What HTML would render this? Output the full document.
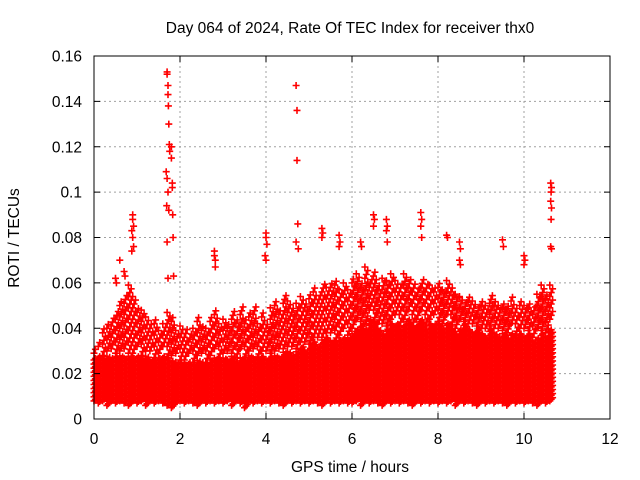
<!DOCTYPE html>
<html><head><meta charset="utf-8"><style>
body{margin:0;background:#fff}
svg{display:block;font-family:"Liberation Sans",sans-serif}
</style></head><body>
<svg id="chart" width="640" height="480" viewBox="0 0 640 480">
<rect width="640" height="480" fill="#fff"/>
<text x="350" y="33" text-anchor="middle" font-size="15.5">Day 064 of 2024, Rate Of TEC Index for receiver thx0</text>
<text x="350" y="472" text-anchor="middle" font-size="15.5">GPS time / hours</text>
<text transform="translate(19,238) rotate(-90)" text-anchor="middle" font-size="15.5">ROTI / TECUs</text>
<g id="grid"></g><g id="marks"></g><g id="axes"></g>
</svg>
<script>
const xTicks=[0,2,4,6,8,10,12];
const yTicks=[0,0.02,0.04,0.06,0.08,0.1,0.12,0.14,0.16];
const yTickLabels=["0","0.02","0.04","0.06","0.08","0.1","0.12","0.14","0.16"];
const binStart=0, binWidth=0.1;
const bandLo=[8,7,8,6,8,7,8,7,6,8, 7,8,6,8,7,8,7,6,5,7, 8,7,8,7,6,8,7,8,7,8, 7,8,6,8,7,5,8,7,8,7, 8,7,8,7,6,8,7,8,7,8, 7,8,7,6,8,7,8,7,8,7, 7,8,6,8,7,8,7,6,8,7, 8,7,8,7,6,8,7,8,7,8, 7,8,7,8,6,8,7,8,7,6, 8,7,8,7,8,7,6,8,7,8, 7,8,7,6,8,7,8];
const bandHi=[27,28,27,28,27,28,28,27,28,27, 28,27,28,26,26,27,28,26,26,25, 25,24,25,24,26,25,24,26,27,26, 27,26,28,25,27,26,28,27,26,28, 26,28,28,27,30,30,28,30,32,30, 32,34,32,35,36,34,33,35,36,36, 38,40,42,40,44,42,40,38,40,42, 42,40,42,44,40,42,44,40,42,42, 42,40,42,40,38,40,42,40,38,40, 38,36,40,38,36,38,36,38,36,38, 36,38,34,36,38,36,40];
const bandTop=[32,34,40,42,45,48,52,55,60,55, 50,48,45,42,45,40,42,48,45,40, 42,40,38,40,45,42,40,45,48,42, 45,42,48,45,50,45,48,50,42,48, 42,50,52,48,55,52,50,52,55,52, 55,58,55,60,58,60,62,58,60,58, 62,65,60,68,62,65,60,62,62,65, 62,60,65,62,60,58,62,60,60,58, 60,58,62,58,55,55,52,55,52,50, 52,50,55,52,50,52,50,55,50,52, 50,52,50,55,60,55,60];
const spikeT=[1.7,1.7,1.72,1.72,1.73,1.74,1.75,1.76,1.68,1.7,1.72,1.69,1.74,1.7,1.72,
1.8,1.8,1.82,1.82,1.83,1.84,1.85,
4.7,4.72,4.72,4.74,4.7,4.75,
0.9,0.9,0.92,0.88,0.9,0.92,0.88,0.7,0.72,0.5,0.52,0.6,
2.8,2.8,2.82,2.82,4.0,4.0,4.02,3.98,4.0,
5.3,5.32,5.3,5.7,5.72,5.7,6.2,6.22,6.5,6.52,6.5,
6.8,6.82,6.8,6.82,7.6,7.62,7.6,7.62,8.2,8.22,8.5,8.52,8.5,8.52,9.5,9.52,10.0,10.02,10.0,
10.62,10.64,10.63,10.62,10.64,10.63,10.62,10.64];
const spikeV=[0.153,0.152,0.147,0.143,0.138,0.130,0.121,0.118,0.109,0.106,0.100,0.094,0.092,0.078,0.062,
0.120,0.115,0.104,0.102,0.090,0.080,0.063,
0.147,0.136,0.114,0.086,0.078,0.075,
0.090,0.088,0.085,0.083,0.080,0.076,0.074,0.065,0.063,0.062,0.060,0.070,
0.074,0.072,0.070,0.067,0.082,0.080,0.077,0.072,0.070,
0.084,0.082,0.080,0.081,0.078,0.076,0.078,0.076,0.090,0.088,0.085,
0.088,0.085,0.083,0.078,0.091,0.088,0.085,0.080,0.081,0.080,0.078,0.075,0.070,0.068,0.079,0.076,0.072,0.070,0.068,
0.104,0.102,0.100,0.096,0.093,0.088,0.076,0.075];

const L=94,R=610,T=56,B=419;
const xS=v=>L+(v-0)/(12-0)*(R-L);
const yS=v=>B-(v-0)/(0.16-0)*(B-T);
const NS="http://www.w3.org/2000/svg";
function mk(tag,attrs,parent){const e=document.createElementNS(NS,tag);for(const k in attrs)e.setAttribute(k,attrs[k]);parent.appendChild(e);return e;}
const grid=document.getElementById('grid'),marks=document.getElementById('marks'),axes=document.getElementById('axes');
xTicks.forEach((t,i)=>{
  if(i>0&&i<xTicks.length-1){const g=mk('line',{x1:xS(t),x2:xS(t),y1:T,y2:B,stroke:'#a0a0a0','stroke-dasharray':'2,3'},grid);
  
  }
  const tk=mk('path',{d:`M${xS(t)},${B}v-6M${xS(t)},${T}v6`,stroke:'#000'},axes);
  
  
  const lb=mk('text',{x:xS(t),y:B+25,'text-anchor':'middle','font-size':15.5},axes);lb.textContent=t;
  
  
});
yTicks.forEach((t,i)=>{
  if(i>0&&i<yTicks.length-1){const g=mk('line',{x1:L,x2:R,y1:yS(t),y2:yS(t),stroke:'#a0a0a0','stroke-dasharray':'2,3'},grid);
  
  }
  const tk=mk('path',{d:`M${L},${yS(t)}h6M${R},${yS(t)}h-6`,stroke:'#000'},axes);
  
  
  const lb=mk('text',{x:L-12,y:yS(t)+5.5,'text-anchor':'end','font-size':15.5},axes);lb.textContent=yTickLabels[i];
  
  
});
function plus(x,y){return `M${(x-3.5).toFixed(1)},${y.toFixed(1)}h7M${x.toFixed(1)},${(y-3.5).toFixed(1)}v7`;}
bandHi.forEach((hi,i)=>{
  const t=binStart+i*binWidth;let d='';
  const lo=bandLo[i]/1000,h=hi/1000,top=bandTop[i]/1000;
  const st=[0.002,0.004,0.001][i%3];
  [0,0.033,0.066].forEach((o,k)=>{
    for(let v=lo+k*0.0007;v<=h;v+=0.0018)d+=plus(xS(t+o),yS(v));
    for(let v=h+st+k*0.0017;v<=top;v+=0.005)d+=plus(xS(t+o),yS(v));
  });
  const p=mk('path',{d:d,stroke:'#ff0000','stroke-width':1.6,fill:'none'},marks);
  
  
});
spikeT.forEach((t,i)=>{
  const p=mk('path',{d:plus(xS(t),yS(spikeV[i])),stroke:'#ff0000','stroke-width':1.6,fill:'none'},marks);
  
  
});
const fr=mk('rect',{x:L,y:T,width:R-L,height:B-T,fill:'none',stroke:'#000'},axes);


</script>
</body></html>
